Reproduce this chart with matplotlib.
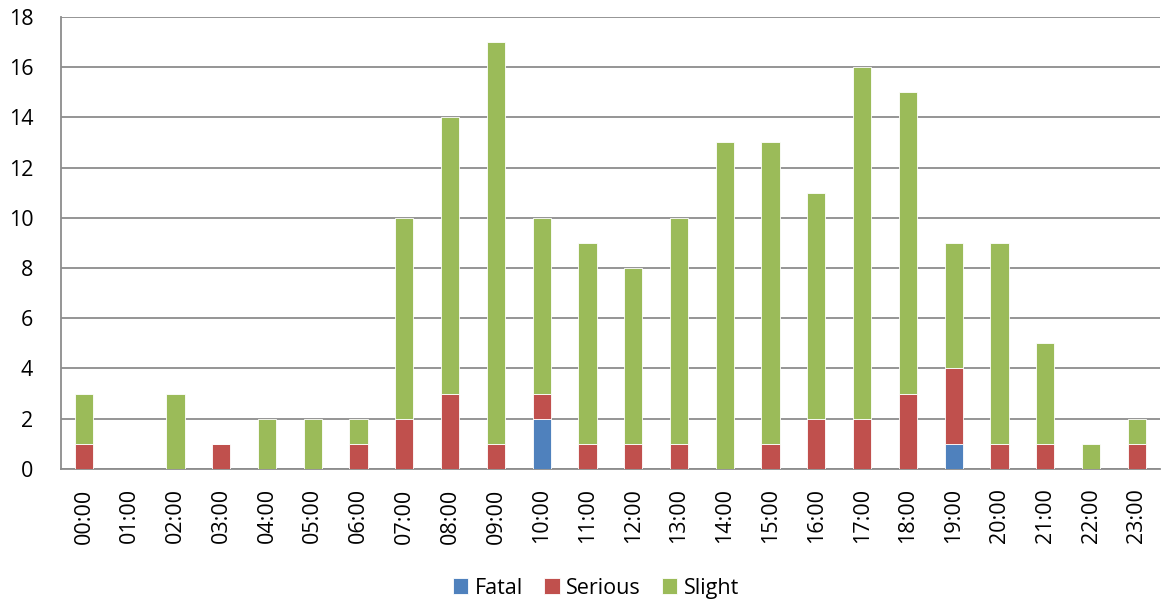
import matplotlib
matplotlib.use("Agg")
import matplotlib.pyplot as plt
import numpy as np

hours = ["%02d:00" % h for h in range(24)]
fatal = [0, 0, 0, 0, 0, 0, 0, 0, 0, 0, 2, 0, 0, 0, 0, 0, 0, 0, 0, 1, 0, 0, 0, 0]
serious = [1, 0, 0, 1, 0, 0, 1, 2, 3, 1, 1, 1, 1, 1, 0, 1, 2, 2, 3, 3, 1, 1, 0, 1]
slight = [2, 0, 3, 0, 2, 2, 1, 8, 11, 16, 7, 8, 7, 9, 13, 12, 9, 14, 12, 5, 8, 4, 1, 1]

plt.rcParams["font.family"] = ["Open Sans", "DejaVu Sans"]

fig = plt.figure(figsize=(11.62, 6.05), dpi=100)
ax = fig.add_axes([0.0525, 0.225, 0.9455, 0.747])

x = np.arange(len(hours))
fatal = np.array(fatal)
serious = np.array(serious)
slight = np.array(slight)
w = 0.4
ax.bar(x, fatal, w, color="#4F81BD", edgecolor="white", linewidth=0.6, label="Fatal", zorder=3)
ax.bar(x, serious, w, bottom=fatal, color="#C0504D", edgecolor="white", linewidth=0.6,
       label="Serious", zorder=3)
ax.bar(x, slight, w, bottom=fatal + serious, color="#9BBB59", edgecolor="white",
       linewidth=0.6, label="Slight", zorder=3)

ax.set_xlim(-0.5, 23.5)
ax.set_ylim(0, 18)
ax.set_yticks(range(0, 19, 2))
ax.set_xticks(x)
ax.set_xticklabels(hours, rotation=90)
ax.yaxis.grid(True, color="#8c8c8c", linewidth=1.3, zorder=0)
ax.tick_params(axis="both", labelsize=15.5, length=0, colors="black")
ax.tick_params(axis="y", pad=20)
ax.tick_params(axis="x", pad=14)
for s in ["top", "right"]:
    ax.spines[s].set_visible(False)
for s in ["left", "bottom"]:
    ax.spines[s].set_color("#8c8c8c")
    ax.spines[s].set_linewidth(1.3)

handles, labels = ax.get_legend_handles_labels()
fig.legend(handles, labels, loc="center", bbox_to_anchor=(0.513, 0.028), ncol=3,
           frameon=False, fontsize=15.5, handlelength=0.7, handleheight=0.7,
           handletextpad=0.3, columnspacing=1.0)

fig.savefig("out.png", dpi=100)
